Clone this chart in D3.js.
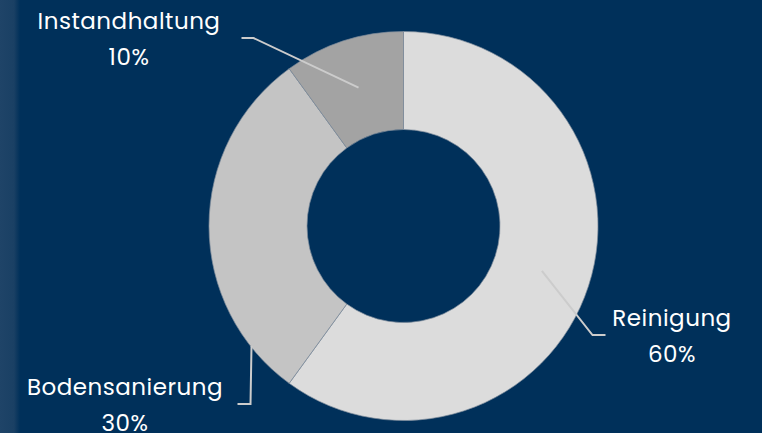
<!DOCTYPE html>
<html>
<head>
<meta charset="utf-8">
<script src="https://cdn.jsdelivr.net/npm/d3@7"></script>
<style>
  html, body { margin: 0; padding: 0; background: #00305a; }
  svg { display: block; }
  text { font-family: "Poppins", "Open Sans", sans-serif; fill: #ffffff; }
</style>
</head>
<body>
<svg id="chart"></svg>
<script>
// Data
const categories = ["Reinigung", "Bodensanierung", "Instandhaltung"];
const shares = [60, 30, 10];
const sliceColors = ["#dcdcdc", "#c4c4c4", "#a3a3a3"];

const width = 762;
const height = 433;
const cx = 403.5, cy = 226;
const outerR = 194.5, innerR = 96.5;

// label layout (leader line start/elbow/end in pixels relative to center, text center x)
const labelLayout = [
    { start: "centroid", elbow: [189, 109], end: [202, 109], textX: 672 },
    { start: [-152, 120], elbow: [-153, 178], end: [-166, 178], textX: 125 },
    { start: "centroid", elbow: [-150, -188], end: [-162, -188], textX: 129 }
];

const svg = d3.select("#chart")
    .attr("width", width)
    .attr("height", height);

// background with lighter strip on the left
const defs = svg.append("defs");
const grad = defs.append("linearGradient")
    .attr("id", "edge")
    .attr("x1", "0").attr("x2", "1").attr("y1", "0").attr("y2", "0");
grad.append("stop").attr("offset", "0").attr("stop-color", "#1f4468");
grad.append("stop").attr("offset", "0.7").attr("stop-color", "#1a4064");
grad.append("stop").attr("offset", "1").attr("stop-color", "#00305a");

svg.append("rect")
    .attr("width", width).attr("height", height)
    .attr("fill", "#00305a");
svg.append("rect")
    .attr("width", 20).attr("height", height)
    .attr("fill", "url(#edge)");

const pie = d3.pie().sort(null).value(d => d);
const arcs = pie(shares);

const arc = d3.arc().innerRadius(innerR).outerRadius(outerR);

const g = svg.append("g").attr("transform", `translate(${cx},${cy})`);

g.selectAll("path.slice")
    .data(arcs)
    .enter()
    .append("path")
    .attr("class", "slice")
    .attr("d", arc)
    .attr("fill", (d, i) => sliceColors[i])
    .attr("stroke", "#7c8b9b")
    .attr("stroke-width", 0.7);

// leader lines
g.selectAll("polyline")
    .data(arcs)
    .enter()
    .append("polyline")
    .attr("points", (d, i) => {
        const l = labelLayout[i];
        const s = l.start === "centroid" ? arc.centroid(d) : l.start;
        return [s, l.elbow, l.end].map(p => p.join(",")).join(" ");
    })
    .attr("fill", "none")
    .attr("stroke", "#cccccc")
    .attr("stroke-width", 2);

// labels
const labels = svg.selectAll("text.label")
    .data(arcs)
    .enter()
    .append("text")
    .attr("class", "label")
    .attr("text-anchor", "middle")
    .attr("font-size", 23)
    .attr("letter-spacing", 0.5)
    .attr("x", (d, i) => labelLayout[i].textX)
    .attr("y", (d, i) => cy + labelLayout[i].end[1] - 9);

labels.append("tspan")
    .attr("x", (d, i) => labelLayout[i].textX)
    .text((d, i) => categories[i]);

labels.append("tspan")
    .attr("x", (d, i) => labelLayout[i].textX)
    .attr("dy", 36)
    .text(d => d.data + "%");
</script>
</body>
</html>
